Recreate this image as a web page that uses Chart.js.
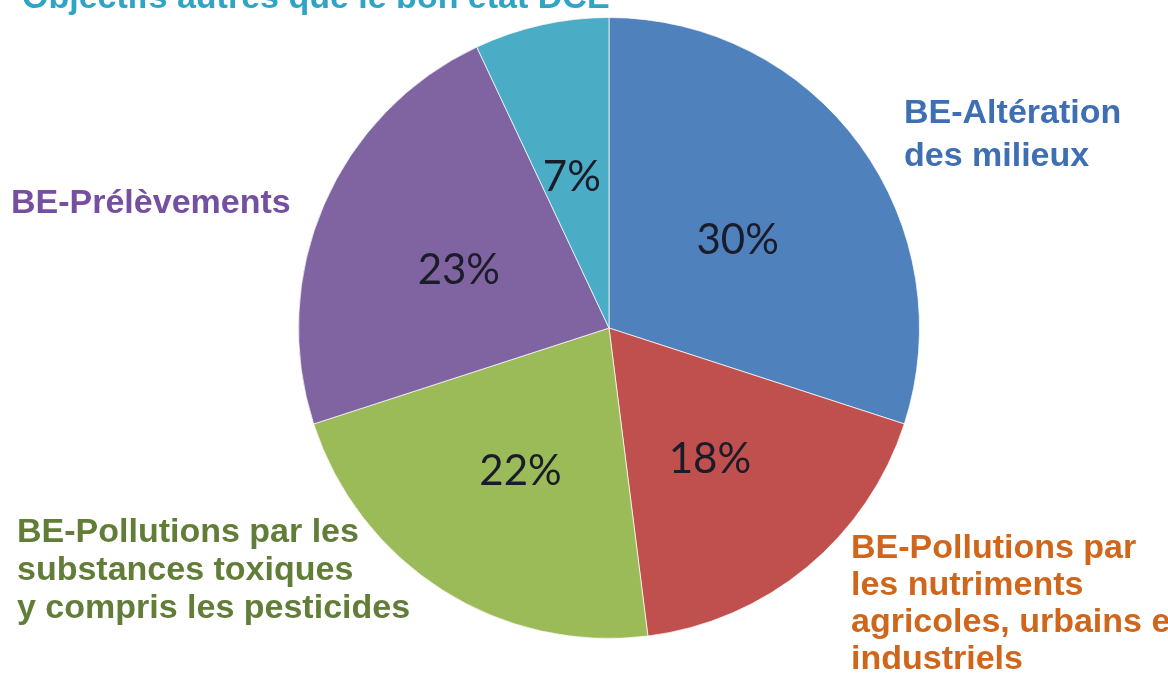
<!DOCTYPE html>
<html lang="fr">
<head>
<meta charset="utf-8">
<title>Objectifs autres que le bon état DCE</title>
<script src="https://cdn.jsdelivr.net/npm/chart.js@4.4.1/dist/chart.umd.min.js"></script>
<style>
  html, body { margin: 0; padding: 0; background: #fff; overflow: hidden; }
  canvas { display: block; }
</style>
</head>
<body>
<canvas id="myChart" width="1168" height="679"></canvas>
<script>
// Slices, clockwise starting at 12 o'clock
var categories = [
  'BE-Altération des milieux',
  'BE-Pollutions par les nutriments agricoles, urbains et industriels',
  'BE-Pollutions par les substances toxiques y compris les pesticides',
  'BE-Prélèvements',
  'Objectifs autres que le bon état DCE'
];
var shares = [30, 18, 22, 23, 7];

// How each category name is broken into lines on the picture
var labelLines = [
  ['BE-Altération', 'des milieux'],
  ['BE-Pollutions par', 'les nutriments', 'agricoles, urbains et', 'industriels'],
  ['BE-Pollutions par les', 'substances toxiques', 'y compris les pesticides'],
  ['BE-Prélèvements'],
  ['Objectifs autres que le bon état DCE']
];

var sliceColors = ['#4f81bd', '#c0504d', '#9bbb59', '#8064a2', '#4bacc6'];
var textColors = ['#3f6fb3', '#cf661c', '#627d38', '#7650a0', '#2fa4c4'];

// where the category names sit (left x, first baseline, line height)
var labelPlaces = [
  { x: 904, y: 123, lh: 43 },
  { x: 851, y: 558, lh: 37 },
  { x: 17, y: 542, lh: 38 },
  { x: 11, y: 213, lh: 38 },
  { x: 22, y: 8, lh: 38 }
];

var ctx = document.getElementById('myChart').getContext('2d');

// percentages drawn inside each slice
var percentLabels = {
  id: 'percentLabels',
  afterDatasetsDraw: function(chart) {
    var c = chart.ctx;
    var arcs = chart.getDatasetMeta(0).data;
    c.save();
    c.font = '42px Lato, "Open Sans", sans-serif';
    c.fillStyle = '#1b1c2a';
    c.textAlign = 'center';
    c.textBaseline = 'middle';
    arcs.forEach(function(arc, i) {
      var p = arc.getProps(['x', 'y', 'startAngle', 'endAngle', 'outerRadius'], true);
      var mid = (p.startAngle + p.endAngle) / 2;
      var r = p.outerRadius * 0.52;
      c.fillText(shares[i] + '%', p.x + Math.cos(mid) * r - 2, p.y + Math.sin(mid) * r + 7);
    });
    c.restore();
  }
};

// category names around the pie
var categoryLabels = {
  id: 'categoryLabels',
  afterDraw: function(chart) {
    var c = chart.ctx;
    c.save();
    c.font = 'bold 34px "Liberation Sans", Arial, sans-serif';
    c.textAlign = 'left';
    c.textBaseline = 'alphabetic';
    labelLines.forEach(function(lines, i) {
      var pl = labelPlaces[i];
      c.fillStyle = textColors[i];
      lines.forEach(function(line, k) {
        c.fillText(line, pl.x, pl.y + k * pl.lh);
      });
    });
    c.restore();
  }
};

var myPieChart = new Chart(ctx, {
  type: 'pie',
  data: {
    labels: categories,
    datasets: [{
      data: shares,
      backgroundColor: sliceColors,
      borderColor: 'rgba(255,255,255,0.7)',
      borderWidth: 1
    }]
  },
  options: {
    responsive: false,
    animation: false,
    layout: { padding: { left: 298, right: 248, top: 17, bottom: 40 } },
    plugins: {
      legend: { display: false },
      tooltip: { enabled: false }
    }
  },
  plugins: [percentLabels, categoryLabels]
});
</script>
</body>
</html>
